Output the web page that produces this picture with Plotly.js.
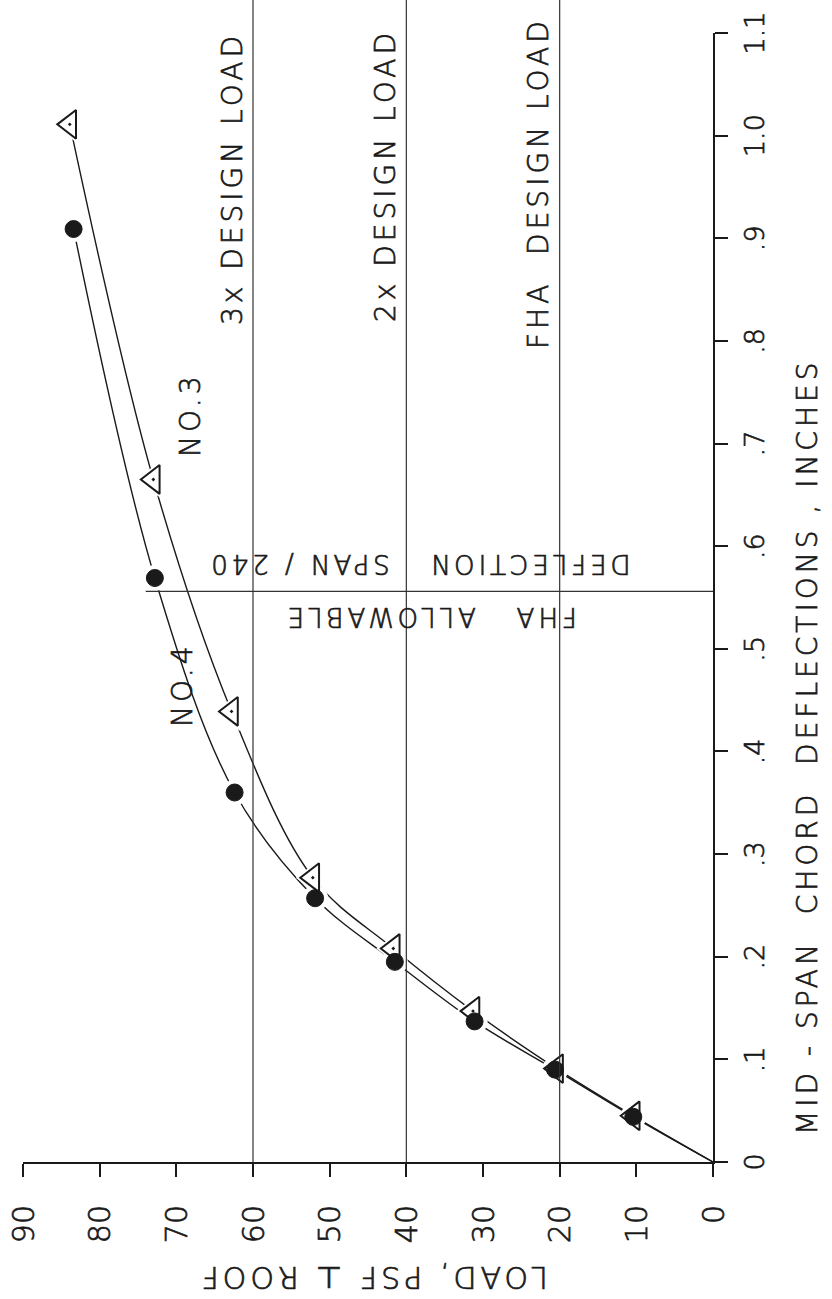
<!DOCTYPE html>
<html><head><meta charset="utf-8">
<script src="https://cdn.plot.ly/plotly-3.0.1.min.js"></script>
<style>
html,body{margin:0;padding:0;width:832px;height:1299px;overflow:hidden;background:#fff;}
#wrap{position:absolute;left:0;top:0;width:1299px;height:832px;transform-origin:0 0;transform:translate(0px,1299px) rotate(-90deg);}
.annotation-text{letter-spacing:4px;}
#chart text{stroke:#1a1a1a;stroke-width:0.7px;}
</style></head><body>
<div id="wrap"><div id="chart" style="width:1299px;height:832px;"></div></div>
<script>
// Truss NO.4 (filled circles)
const deflNo4 = [0.044, 0.090, 0.137, 0.195, 0.257, 0.360, 0.569, 0.909];
const loadNo4 = [10.4, 20.6, 31.1, 41.5, 51.9, 62.4, 72.8, 83.4];
// Truss NO.3 (triangles)
const deflNo3 = [0.045, 0.091, 0.147, 0.208, 0.277, 0.439, 0.665, 1.011];
const loadNo3 = [10.4, 20.4, 31.3, 41.7, 52.2, 62.8, 73.0, 83.9];
// Reference levels
const designLoads = [20, 40, 60];
const designLabels = ['FHA\u00a0\u00a0DESIGN LOAD', '2x DESIGN LOAD', '3x DESIGN LOAD'];
const allowableDeflection = 0.556;
// Ticks
const deflTicks = [0, 0.1, 0.2, 0.3, 0.4, 0.5, 0.6, 0.7, 0.8, 0.9, 1.0, 1.1];
const deflTickText = ['0', '.1', '.2', '.3', '.4', '.5', '.6', '.7', '.8', '.9', '1.0', '1.1'];
const loadTicks = [0, 10, 20, 30, 40, 50, 60, 70, 80, 90];
const loadTickText = ['0', '10', '20', '30', '40', '50', '60', '70', '80', '90'];

const FONT = 'DejaVu Sans, sans-serif';
const INK = '#1a1a1a';
const fnt = (s) => ({family: FONT, size: s, color: INK, weight: 300});

const curve = (x, y) => ({
  x: [0].concat(x), y: [0].concat(y), mode: 'lines', type: 'scatter',
  line: {color: INK, width: 1.4, shape: 'spline', smoothing: 1}, hoverinfo: 'skip', showlegend: false
});
const halo = (x, y, sym, sz) => ({
  x: x, y: y, mode: 'markers', type: 'scatter', showlegend: false, hoverinfo: 'skip',
  marker: {symbol: sym, size: sz, color: '#ffffff', line: {width: 0}}
});

const traces = [
  curve(deflNo4, loadNo4),
  curve(deflNo3, loadNo3),
  halo(deflNo3, loadNo3, 'triangle-up', 34),
  halo(deflNo4, loadNo4, 'circle', 26),
  {x: deflNo3, y: loadNo3, mode: 'markers', type: 'scatter', name: 'NO.3', showlegend: false,
   marker: {symbol: 'triangle-up-dot', size: 25, color: '#ffffff', line: {color: INK, width: 2}}},
  {x: deflNo4, y: loadNo4, mode: 'markers', type: 'scatter', name: 'NO.4', showlegend: false,
   marker: {symbol: 'circle', size: 17, color: INK, line: {color: INK, width: 1}}}
];

const shapes = designLoads.map(v => ({
  type: 'line', xref: 'paper', yref: 'y', x0: 0, x1: 1.03, y0: v, y1: v,
  line: {color: '#333', width: 1.2}
}));
shapes.push({type: 'line', xref: 'x', yref: 'y', x0: allowableDeflection, x1: allowableDeflection,
  y0: 0, y1: 74, line: {color: '#333', width: 1.2}});
shapes.push({type: 'line', xref: 'paper', yref: 'paper', x0: 0, x1: 0, y0: 0, y1: -0.018,
  line: {color: INK, width: 2}});

const labelRightEdge = [1.016, 1.005, 1.003];
const annotations = designLoads.map((v, i) => ({
  text: designLabels[i], x: labelRightEdge[i], y: v, xref: 'paper', yref: 'y', xanchor: 'right', yanchor: 'middle',
  yshift: 21, showarrow: false, font: fnt(28)
}));
annotations.push(
  {text: 'NO.3', x: 0.728, y: 68.2, xref: 'x', yref: 'y', showarrow: false, font: fnt(28)},
  {text: 'NO.4', x: 0.465, y: 69.2, xref: 'x', yref: 'y', showarrow: false, font: fnt(28)},
  {text: 'DEFLECTION\u00a0\u00a0\u00a0SPAN / 240', x: 0.5826, y: 38.4, xref: 'x', yref: 'y',
   textangle: -90, showarrow: false, font: fnt(26)},
  {text: 'FHA\u00a0\u00a0\u00a0ALLOWABLE', x: 0.531, y: 36.8, xref: 'x', yref: 'y',
   textangle: -90, showarrow: false, font: fnt(26)},
  {text: 'MID\u00a0-\u00a0SPAN\u00a0\u00a0CHORD\u00a0\u00a0DEFLECTIONS , INCHES', x: 0.368, y: -0.137,
   xref: 'paper', yref: 'paper', xanchor: 'center', yanchor: 'middle', showarrow: false, font: fnt(28)},
  {text: 'LOAD, PSF \u22a5 ROOF', x: -0.102, y: 0.493, xref: 'paper', yref: 'paper',
   xanchor: 'center', yanchor: 'middle', textangle: -90, showarrow: false, font: fnt(30)}
);

const layout = {
  width: 1299, height: 832,
  margin: {l: 137, r: 33, t: 23, b: 119},
  paper_bgcolor: '#ffffff', plot_bgcolor: '#ffffff',
  showlegend: false,
  xaxis: {
    range: [0, 1.1], tickvals: deflTicks, ticktext: deflTickText,
    showline: true, linewidth: 2, linecolor: INK, zeroline: false, showgrid: false,
    ticks: 'outside', ticklen: 13, tickwidth: 2, tickcolor: INK, ticklabelstandoff: 4,
    tickfont: fnt(27)
  },
  yaxis: {
    range: [0, 90], tickvals: loadTicks, ticktext: loadTickText,
    showline: true, linewidth: 2, linecolor: INK, zeroline: false, showgrid: false,
    ticks: 'outside', ticklen: 13, tickwidth: 2, tickcolor: INK, ticklabelstandoff: 22,
    tickfont: fnt(30)
  },
  shapes: shapes,
  annotations: annotations
};

Plotly.newPlot('chart', traces, layout, {staticPlot: true, displayModeBar: false});
</script>
</body></html>
